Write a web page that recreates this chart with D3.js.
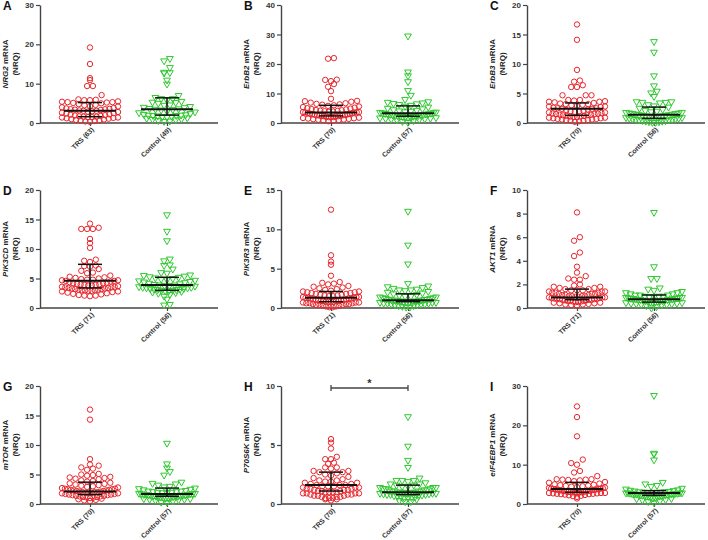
<!DOCTYPE html>
<html><head><meta charset="utf-8">
<script src="https://cdn.jsdelivr.net/npm/d3@7"></script>
<style>body{margin:0;background:#fff}svg{display:block}text{font-family:"Liberation Sans",Arial,sans-serif}</style>
</head><body>
<svg id="c" width="708" height="540"></svg>
<script>
const letters = ["A","B","C","D","E","F","G","H","I"];
const genes = ["NRG2","ErbB2","ErbB3","PIK3CD","PIK3R3","AKT1","mTOR","P70S6K","eIF4EBP1"];
const yMax = [30,40,20,20,15,10,20,10,30];
const yTicks = [[0,10,20,30],[0,10,20,30,40],[0,5,10,15,20],[0,5,10,15,20],[0,5,10,15],[0,2,4,6,8,10],[0,5,10,15,20],[0,5,10],[0,10,20,30]];
const categories = ["TRS","Control"];
const trsN = [63,70,70,71,71,71,70,70,70];
const ctrlN = [49,57,56,56,56,56,57,57,57];

const trsA = [19.2,15.0,11.4,10.9,9.4,9.4,7.1,6.0,5.9,5.8,5.8,5.5,5.4,5.3,5.3,5.2,5.1,5.0,4.8,4.6,4.5,4.3,4.2,4.0,3.8,3.7,3.6,3.5,3.5,3.4,3.3,3.2,3.1,3.1,3.0,2.9,2.8,2.6,2.5,2.4,2.2,2.1,2.0,1.9,1.8,1.7,1.6,1.6,1.5,1.5,1.4,1.4,1.3,1.2,1.1,1.0,0.9,0.8,0.7,0.6,0.5,0.4,0.3];
const ctrlA = [16.4,15.8,14.1,12.9,12.8,12.7,10.9,9.9,7.0,6.5,6.2,6.2,5.8,5.5,5.3,5.2,5.0,4.6,4.5,4.2,4.0,3.9,3.7,3.6,3.5,3.4,3.3,3.0,2.8,2.6,2.4,2.2,2.1,2.0,2.0,1.9,1.9,1.8,1.7,1.6,1.5,1.3,1.2,1.0,0.9,0.8,0.6,0.5,0.4];
const trsB = [22.0,21.8,14.7,14.6,14.2,13.2,12.3,10.8,8.2,7.5,7.4,7.2,6.9,6.7,6.5,6.3,6.2,6.0,5.8,5.6,5.4,5.2,5.0,4.9,4.7,4.6,4.4,4.3,4.2,4.1,4.0,3.9,3.8,3.7,3.7,3.6,3.6,3.5,3.4,3.3,3.2,3.1,3.0,2.9,2.8,2.8,2.7,2.6,2.5,2.5,2.4,2.3,2.3,2.2,2.1,2.0,2.0,1.9,1.8,1.7,1.6,1.5,1.4,1.3,1.2,1.1,1.0,0.9,0.8,0.6];
const ctrlB = [29.5,17.3,16.0,14.0,11.0,9.4,8.0,7.2,7.0,6.8,6.6,6.5,6.3,6.0,5.7,5.4,5.0,4.8,4.5,4.3,4.1,4.0,3.8,3.7,3.6,3.5,3.4,3.3,3.2,3.1,3.0,3.0,2.9,2.8,2.7,2.6,2.5,2.5,2.4,2.3,2.3,2.2,2.1,2.0,2.0,1.9,1.8,1.7,1.6,1.5,1.4,1.3,1.2,1.0,0.8,0.5,0.2];
const trsC = [16.7,14.1,9.0,7.2,7.0,6.4,6.1,6.1,4.7,4.7,4.7,3.9,3.9,3.8,3.7,3.6,3.6,3.5,3.4,3.3,3.2,3.2,3.1,3.0,2.9,2.8,2.8,2.7,2.6,2.5,2.5,2.4,2.4,2.3,2.2,2.1,2.0,2.0,1.9,1.8,1.8,1.7,1.6,1.6,1.5,1.5,1.4,1.4,1.3,1.3,1.2,1.2,1.1,1.1,1.0,1.0,0.9,0.9,0.8,0.8,0.7,0.7,0.6,0.6,0.5,0.5,0.4,0.4,0.3,0.2];
const ctrlC = [13.8,12.0,8.0,6.3,5.4,5.1,4.5,3.6,3.6,3.5,3.5,3.4,3.1,2.9,2.7,2.5,2.3,2.1,2.0,1.9,1.8,1.8,1.7,1.7,1.6,1.6,1.5,1.5,1.4,1.4,1.3,1.3,1.2,1.2,1.1,1.1,1.0,1.0,0.9,0.9,0.8,0.8,0.7,0.7,0.6,0.6,0.5,0.5,0.4,0.4,0.3,0.3,0.2,0.2,0.1,0.1];
const trsD = [14.3,13.6,13.4,13.4,13.4,11.7,11.0,10.2,8.2,8.0,7.8,7.2,7.1,7.0,6.6,6.3,6.0,5.9,5.5,5.3,5.2,5.1,5.0,4.9,4.8,4.8,4.7,4.7,4.6,4.6,4.5,4.4,4.3,4.2,4.2,4.1,4.0,4.0,3.9,3.9,3.8,3.8,3.7,3.6,3.6,3.5,3.5,3.4,3.4,3.3,3.3,3.2,3.2,3.1,3.1,3.0,3.0,3.0,2.9,2.9,2.8,2.8,2.7,2.6,2.5,2.4,2.3,2.2,2.1,2.1,2.0];
const ctrlD = [15.8,13.0,11.4,8.3,8.0,7.3,7.2,6.6,6.0,5.9,5.6,5.5,5.4,5.3,5.2,5.1,5.0,4.9,4.8,4.7,4.6,4.5,4.4,4.3,4.2,4.1,4.0,3.9,3.9,3.8,3.8,3.7,3.6,3.5,3.5,3.4,3.4,3.3,3.3,3.2,3.2,3.1,3.1,3.0,3.0,2.9,2.9,2.8,2.7,2.6,2.5,2.3,2.0,1.5,0.6,0.5];
const trsE = [12.5,6.7,5.9,5.5,4.1,3.3,3.2,3.1,3.0,2.8,2.7,2.6,2.5,2.4,2.3,2.2,2.1,2.1,2.0,2.0,1.9,1.9,1.8,1.8,1.7,1.7,1.6,1.6,1.5,1.5,1.4,1.4,1.4,1.3,1.3,1.3,1.2,1.2,1.2,1.1,1.1,1.1,1.0,1.0,1.0,0.9,0.9,0.9,0.9,0.8,0.8,0.8,0.8,0.7,0.7,0.7,0.6,0.6,0.6,0.5,0.5,0.5,0.4,0.4,0.4,0.3,0.3,0.2,0.2,0.1,0.1];
const ctrlE = [12.3,8.0,5.6,3.1,2.8,2.7,2.6,2.5,2.4,2.3,2.3,2.2,2.1,2.0,1.9,1.8,1.7,1.6,1.5,1.5,1.4,1.4,1.3,1.3,1.2,1.2,1.1,1.1,1.1,1.0,1.0,1.0,0.9,0.9,0.9,0.9,0.8,0.8,0.8,0.8,0.7,0.7,0.7,0.6,0.6,0.6,0.5,0.5,0.5,0.4,0.4,0.3,0.3,0.2,0.1,0.1];
const trsF = [8.1,6.0,5.7,4.7,4.4,3.5,3.0,2.7,2.5,2.4,2.4,2.0,1.9,1.8,1.8,1.7,1.7,1.6,1.6,1.5,1.5,1.5,1.4,1.4,1.4,1.3,1.3,1.3,1.2,1.2,1.2,1.1,1.1,1.1,1.0,1.0,1.0,1.0,0.95,0.95,0.9,0.9,0.9,0.85,0.85,0.8,0.8,0.8,0.75,0.75,0.7,0.7,0.7,0.65,0.65,0.6,0.6,0.6,0.55,0.55,0.5,0.5,0.45,0.45,0.4,0.4,0.35,0.3,0.3,0.25,0.2];
const ctrlF = [8.1,3.5,2.5,2.5,1.7,1.6,1.5,1.4,1.3,1.3,1.2,1.2,1.1,1.1,1.1,1.0,1.0,1.0,0.95,0.95,0.9,0.9,0.9,0.85,0.85,0.8,0.8,0.8,0.75,0.75,0.75,0.7,0.7,0.7,0.65,0.65,0.6,0.6,0.6,0.55,0.55,0.5,0.5,0.5,0.45,0.45,0.4,0.4,0.35,0.35,0.3,0.3,0.25,0.2,0.1,0.0];
const trsG = [16.0,14.3,7.6,6.7,6.5,6.2,6.0,5.8,5.1,5.0,4.9,4.8,4.6,4.5,4.4,4.3,4.2,4.0,3.9,3.8,3.6,3.5,3.4,3.3,3.2,3.1,3.0,2.9,2.8,2.7,2.6,2.6,2.5,2.5,2.4,2.4,2.3,2.3,2.2,2.2,2.1,2.1,2.0,2.0,2.0,1.9,1.9,1.9,1.8,1.8,1.7,1.7,1.6,1.6,1.5,1.5,1.4,1.4,1.3,1.3,1.2,1.2,1.1,1.1,1.0,0.9,0.8,0.7,0.6,0.5];
const ctrlG = [10.3,6.8,6.1,5.5,4.9,3.7,3.5,3.4,3.2,3.0,2.9,2.7,2.6,2.5,2.4,2.3,2.2,2.2,2.1,2.1,2.0,2.0,1.9,1.9,1.8,1.8,1.7,1.7,1.7,1.6,1.6,1.6,1.5,1.5,1.5,1.4,1.4,1.4,1.3,1.3,1.3,1.2,1.2,1.2,1.1,1.1,1.0,1.0,0.9,0.9,0.8,0.8,0.7,0.6,0.5,0.3,0.3];
const trsH = [5.5,5.2,4.7,4.0,3.8,3.8,3.5,3.4,3.1,3.1,3.0,2.8,2.8,2.7,2.7,2.6,2.5,2.4,2.3,2.2,2.1,2.0,2.0,1.9,1.9,1.8,1.8,1.7,1.7,1.6,1.6,1.6,1.5,1.5,1.5,1.4,1.4,1.4,1.3,1.3,1.3,1.2,1.2,1.2,1.1,1.1,1.1,1.0,1.0,1.0,1.0,0.9,0.9,0.9,0.9,0.8,0.8,0.8,0.7,0.7,0.7,0.6,0.6,0.6,0.5,0.5,0.5,0.4,0.4,0.3];
const ctrlH = [7.4,4.9,3.7,3.1,2.2,2.0,2.0,2.0,1.9,1.8,1.7,1.7,1.6,1.6,1.5,1.5,1.4,1.4,1.4,1.3,1.3,1.3,1.2,1.2,1.2,1.1,1.1,1.1,1.1,1.0,1.0,1.0,1.0,1.0,0.95,0.95,0.9,0.9,0.9,0.85,0.85,0.8,0.8,0.8,0.75,0.7,0.7,0.65,0.6,0.6,0.55,0.5,0.5,0.4,0.3,0.2,0.2];
const trsI = [24.8,22.1,17.2,11.3,10.4,10.0,8.4,8.0,7.1,6.3,6.3,6.2,6.2,6.1,6.0,5.8,5.6,5.4,5.2,5.0,4.9,4.8,4.7,4.6,4.5,4.4,4.3,4.2,4.1,4.0,3.9,3.9,3.8,3.8,3.7,3.7,3.6,3.6,3.5,3.5,3.4,3.4,3.3,3.3,3.2,3.2,3.1,3.1,3.0,3.0,3.0,2.9,2.9,2.9,2.8,2.8,2.8,2.7,2.7,2.6,2.6,2.5,2.5,2.4,2.3,2.2,2.1,2.0,1.8,1.4];
const ctrlI = [27.6,12.9,12.7,11.2,5.5,5.1,4.7,4.5,4.0,3.8,3.6,3.5,3.4,3.3,3.2,3.1,3.1,3.0,3.0,2.9,2.9,2.9,2.8,2.8,2.8,2.8,2.7,2.7,2.7,2.6,2.6,2.6,2.5,2.5,2.5,2.4,2.4,2.3,2.3,2.2,2.2,2.1,2.1,2.0,2.0,1.9,1.8,1.7,1.6,1.5,1.4,1.3,1.1,1.0,0.8,0.6,0.3];

const trsMedian = [3.1,3.6,2.4,4.6,1.3,0.9,2.1,1.6,3.8];
const trsQ1 = [1.6,2.4,1.3,3.4,0.8,0.7,1.6,1.1,3.0];
const trsQ3 = [5.2,6.0,3.4,7.4,2.1,1.6,3.7,2.7,5.5];
const ctrlMedian = [3.5,3.3,1.4,3.9,1.0,0.75,1.7,1.0,2.8];
const ctrlQ1 = [2.0,2.3,0.8,3.0,0.8,0.5,1.3,0.8,2.2];
const ctrlQ3 = [6.4,5.8,2.7,5.2,1.8,1.1,2.7,1.6,3.4];

const trsData = [trsA,trsB,trsC,trsD,trsE,trsF,trsG,trsH,trsI];
const ctrlData = [ctrlA,ctrlB,ctrlC,ctrlD,ctrlE,ctrlF,ctrlG,ctrlH,ctrlI];

// layout
const colX = [40, 281, 527];
const rowY = [5, 190, 386];
const plotH = 118, plotW = 178;
const red = "#e8262c", green = "#2fc82f", axisCol = "#444";
const svg = d3.select("#c");

function swarm(values, y, cx) {
  const binH = 5.6, maxW = 56, step = 5.8;
  const sorted = values.slice().sort((a,b)=>a-b);
  const bins = d3.group(sorted, v => Math.floor((y(0) - y(v)) / binH));
  const pts = [];
  for (const [k, arr] of bins) {
    const n = arr.length;
    const s = n > 1 ? Math.min(step, maxW / (n - 1)) : 0;
    const offs = d3.range(n).map(i => (i - (n - 1) / 2) * s).sort((a,b)=>Math.abs(a)-Math.abs(b) || a-b);
    arr.forEach((v, i) => pts.push({v, x: cx + offs[i], y: y(v)}));
  }
  return pts;
}

for (let p = 0; p < 9; p++) {
  const ox = colX[p % 3], oy = rowY[Math.floor(p / 3)];
  const g = svg.append("g").attr("transform", `translate(${ox},${oy})`);
  const y = d3.scaleLinear().domain([0, yMax[p]]).range([plotH, 0]);
  const x = d3.scalePoint().domain(categories).range([50, 127]);

  svg.append("text").attr("x", ox - 37).attr("y", oy + 5)
    .attr("font-size", 12).attr("font-weight", "bold").attr("fill", "#111").text(letters[p]);

  const ya = g.append("g").call(d3.axisLeft(y).tickValues(yTicks[p]).tickSize(4).tickPadding(2).tickSizeOuter(0));
  ya.select(".domain").attr("stroke", axisCol).attr("stroke-width", 1.4);
  ya.selectAll(".tick line").attr("stroke", axisCol).attr("stroke-width", 1.2);
  ya.selectAll(".tick text").attr("font-size", 8).attr("font-weight", "bold").attr("fill", "#333")
    .attr("font-family", "Liberation Sans, Arial, sans-serif");

  const xa = g.append("g").attr("transform", `translate(0,${plotH})`)
    .call(d3.axisBottom(x).tickSize(3).tickSizeOuter(0).tickFormat((d, i) => d + " (" + (i === 0 ? trsN[p] : ctrlN[p]) + ")"));
  xa.select(".domain").attr("d", `M0,0H${plotW}`).attr("stroke", axisCol).attr("stroke-width", 1.4);
  xa.selectAll(".tick line").attr("stroke", axisCol).attr("stroke-width", 1.2);
  xa.selectAll(".tick text").attr("font-size", 7).attr("font-weight", "bold").attr("fill", "#333")
    .attr("font-family", "Liberation Sans, Arial, sans-serif")
    .attr("text-anchor", "end").attr("dy", null).attr("y", 0)
    .attr("transform", "translate(4,7) rotate(-45)");

  const yl = g.append("text").attr("transform", `translate(-32,${plotH / 2}) rotate(-90)`)
    .attr("text-anchor", "middle").attr("font-size", 8).attr("font-weight", "bold").attr("fill", "#222");
  yl.append("tspan").attr("font-style", "italic").text(genes[p]);
  yl.append("tspan").text(" mRNA");
  g.append("text").attr("transform", `translate(-22,${plotH / 2}) rotate(-90)`)
    .attr("text-anchor", "middle").attr("font-size", 8).attr("font-weight", "bold").attr("fill", "#222").text("(NRQ)");

  const tp = swarm(trsData[p], y, x("TRS"));
  g.append("g").selectAll("circle").data(tp).join("circle")
    .attr("cx", d => d.x).attr("cy", d => d.y).attr("r", 2.7)
    .attr("fill", "none").attr("stroke", red).attr("stroke-width", 1);
  const cp = swarm(ctrlData[p], y, x("Control"));
  const tri = d3.symbol().type(d3.symbolTriangle).size(20);
  g.append("g").selectAll("path").data(cp).join("path")
    .attr("d", tri).attr("transform", d => `translate(${d.x},${d.y}) rotate(180)`)
    .attr("fill", "none").attr("stroke", green).attr("stroke-width", 1);

  const stats = [
    {c: "TRS", m: trsMedian[p], q1: trsQ1[p], q3: trsQ3[p]},
    {c: "Control", m: ctrlMedian[p], q1: ctrlQ1[p], q3: ctrlQ3[p]}
  ];
  stats.forEach(s => {
    const cx = x(s.c);
    g.append("line").attr("x1", cx - 26).attr("x2", cx + 26).attr("y1", y(s.m)).attr("y2", y(s.m))
      .attr("stroke", "#111").attr("stroke-width", 2);
    g.append("line").attr("x1", cx).attr("x2", cx).attr("y1", y(s.q1)).attr("y2", y(s.q3))
      .attr("stroke", "#111").attr("stroke-width", 1.5);
    [s.q1, s.q3].forEach(q => g.append("line").attr("x1", cx - 12).attr("x2", cx + 12)
      .attr("y1", y(q)).attr("y2", y(q)).attr("stroke", "#111").attr("stroke-width", 1.5));
  });

  if (letters[p] === "H") {
    const by = y(yMax[p]) + 2;
    g.append("path").attr("d", `M${x("TRS")},${by - 3}V${by + 3}M${x("TRS")},${by}H${x("Control")}M${x("Control")},${by - 3}V${by + 3}`)
      .attr("stroke", "#444").attr("stroke-width", 1.3).attr("fill", "none");
    g.append("text").attr("x", (x("TRS") + x("Control")) / 2).attr("y", by - 1)
      .attr("text-anchor", "middle").attr("font-size", 11).attr("font-weight", "bold").attr("fill", "#333").text("*");
  }
}
</script>
</body></html>
